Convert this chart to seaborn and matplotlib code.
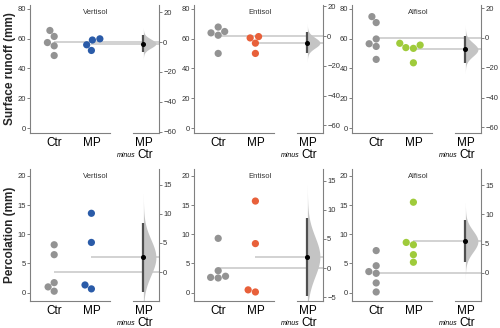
import numpy as np
import pandas as pd
import matplotlib
matplotlib.use("Agg")
import matplotlib.pyplot as plt
import seaborn as sns

sns.set_style("ticks")
plt.rcParams["font.family"] = ["Liberation Sans", "DejaVu Sans"]

# ---------------- data ----------------
soils = ["Vertisol", "Entisol", "Alfisol"]
groups = ["Ctr", "MP"]
ctr_color = "#939393"
mp_colors = ["#2a5ba8", "#e8603a", "#9fcb3b"]

runoff_ctr = [[61.5, 65.5, 55.2, 57.4, 48.7],
              [64.8, 62.3, 67.8, 63.9, 50.1],
              [74.8, 70.8, 59.8, 54.8, 56.6, 46.1]]
runoff_mp = [[59.9, 59.1, 55.9, 52.1],
             [61.4, 60.5, 57.0, 50.1],
             [55.7, 53.5, 56.9, 54.0, 43.8]]
perc_ctr = [[6.5, 8.2, 0.97, 1.7, 0.23],
            [9.3, 3.75, 2.6, 2.5, 2.8],
            [7.2, 4.6, 3.6, 3.3, 1.65, 0.1]]
perc_mp = [[13.6, 8.6, 1.3, 0.63],
           [15.7, 8.4, 0.46, 0.1],
           [15.5, 8.6, 8.2, 6.5, 5.2]]

row_ylabels = ["Surface runoff (mm)", "Percolation (mm)"]
row_ylims = [(-3.3, 82.6), (-1.45, 21.2)]
row_yticks = [[0, 20, 40, 60, 80], [0, 5, 10, 15, 20]]
row_cticks = [[-60, -40, -20, 0, 20], [-5, 0, 5, 10, 15]]

# ---------------- layout (pixels) ----------------
W, H = 500, 328
fig = plt.figure(figsize=(W / 100, H / 100), dpi=100)
raw_left = [30, 194, 352]
raw_w = 80
con_off = 103
con_w = 26
rows_y = [(5, 133), (169, 301)]
raw_xlim = (-0.65, 1.5)
con_xlim = (-0.4, 0.6)

spine_col = "#808080"
txt_col = "#333333"


def px_axes(x0, y0, x1, y1):
    return fig.add_axes([x0 / W, 1 - y1 / H, (x1 - x0) / W, (y1 - y0) / H])


datasets = [(runoff_ctr, runoff_mp), (perc_ctr, perc_mp)]

for r in range(2):
    y0, y1 = rows_y[r]
    ctr_all, mp_all = datasets[r]
    ylim = row_ylims[r]
    for c in range(3):
        xl = raw_left[c]
        ax = px_axes(xl, y0, xl + raw_w, y1)
        axc = px_axes(xl + con_off, y0, xl + con_off + con_w, y1)
        for a in (ax, axc):
            a.set_facecolor("none")

        ctr = np.array(ctr_all[c])
        mp = np.array(mp_all[c])
        df = pd.DataFrame({
            "group": ["Ctr"] * len(ctr) + ["MP"] * len(mp),
            "value": np.concatenate([ctr, mp]),
        })
        sns.swarmplot(data=df, x="group", y="value", hue="group", order=groups,
                      palette={"Ctr": ctr_color, "MP": mp_colors[c]},
                      size=5.2, linewidth=0, legend=False, ax=ax, zorder=3)

        ax.set_xlim(*raw_xlim)
        ax.set_ylim(*ylim)
        ax.set_yticks(row_yticks[r])
        ax.set_xlabel("")
        ax.set_ylabel("")
        ax.set_xticks([0, 1])
        ax.set_xticklabels(groups)
        for s in ("top", "right"):
            ax.spines[s].set_visible(False)
        for s in ("left", "bottom"):
            ax.spines[s].set_color(spine_col)
            ax.spines[s].set_linewidth(0.8)
        ax.tick_params(axis="y", labelsize=5.5, length=2, width=0.7, pad=1,
                       colors=spine_col, labelcolor=txt_col)
        ax.tick_params(axis="x", labelsize=8.5, length=0, pad=3,
                       labelcolor="black")

        # mean lines extending to contrast axis
        m_c = ctr.mean()
        m_t = mp.mean()
        x_end = raw_xlim[0] + (con_off + con_w) / raw_w * (raw_xlim[1] - raw_xlim[0])
        for gx, m in ((0, m_c), (1, m_t)):
            ax.plot([gx, x_end], [m, m], color="#c6c6c6", lw=1.1,
                    clip_on=False, zorder=1, solid_capstyle="butt")

        # contrast axes
        diff = m_t - m_c
        se = np.sqrt(ctr.var() / len(ctr) + mp.var() / len(mp))
        ys = np.linspace(diff - 3.6 * se, diff + 3.6 * se, 400)
        dens = np.exp(-0.5 * ((ys - diff) / se) ** 2)
        wid = dens / dens.max() * 0.48
        axc.fill_betweenx(ys, 0, wid, color="#c4c4c4", lw=0, zorder=2)
        axc.plot([0, 0], [diff - 1.96 * se, diff + 1.96 * se], color="#505050",
                 lw=1.6, zorder=3, solid_capstyle="butt")
        axc.plot([0], [diff], "o", color="black", ms=2.6, zorder=4)

        axc.set_xlim(*con_xlim)
        clim = (ylim[0] - m_c, ylim[1] - m_c)
        axc.set_ylim(*clim)
        axc.set_yticks([t for t in row_cticks[r] if clim[0] < t < clim[1]])
        axc.yaxis.tick_right()
        axc.set_xticks([0])
        axc.set_xticklabels(["MP"])
        for s in ("top", "left"):
            axc.spines[s].set_visible(False)
        for s in ("right", "bottom"):
            axc.spines[s].set_color(spine_col)
            axc.spines[s].set_linewidth(0.8)
        axc.tick_params(axis="y", labelsize=5.5, length=2, width=0.7, pad=1,
                        colors=spine_col, labelcolor=txt_col)
        axc.tick_params(axis="x", labelsize=8.5, length=0, pad=3,
                        labelcolor="black")
        axc.annotate("Ctr", xy=(0, 0), xycoords=("data", "axes fraction"),
                     xytext=(1, -16), textcoords="offset points",
                     ha="center", va="center", fontsize=8.5, color="black")
        axc.annotate("minus", xy=(0, 0), xycoords=("data", "axes fraction"),
                     xytext=(-6, -16.5), textcoords="offset points",
                     ha="right", va="center", fontsize=5, style="italic",
                     color="black")

        # panel title
        fig.text((xl + 66) / W, 1 - (y0 + 7) / H, soils[c], ha="center",
                 va="center", fontsize=5.5, color=txt_col)

    fig.text(10 / W, 1 - ((y0 + y1) / 2) / H, row_ylabels[r], rotation=90,
             ha="center", va="center", fontsize=8.5, fontweight="bold")

fig.savefig("out.png", dpi=100)
